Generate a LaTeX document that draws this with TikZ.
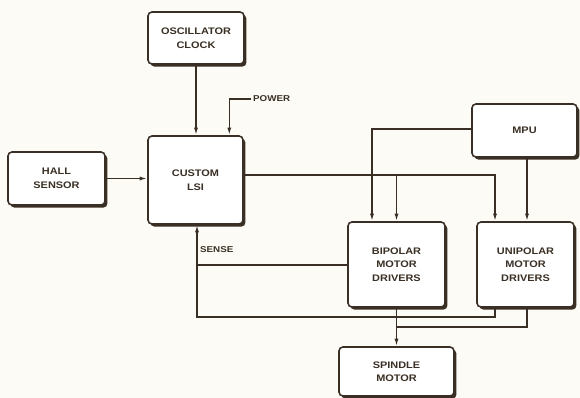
\documentclass[tikz,border=0pt]{standalone}
\usepackage{fontspec}
\newfontfamily\lab{Liberation Sans}[FakeStretch=1.15]
\usetikzlibrary{arrows.meta,shadows,calc}
\definecolor{ink}{HTML}{3A2F24}
\definecolor{paper}{HTML}{FDFBF6}
\begin{document}
\begin{tikzpicture}[x=1pt,y=-1pt,
  blk/.style={draw=ink, line width=1.6pt, rounded corners=4pt, fill=white, align=center,
    font=\lab\bfseries\fontsize{9.5}{13.5}\selectfont, text=ink, inner sep=0pt,
    drop shadow={shadow xshift=2.4pt,shadow yshift=-2.6pt,opacity=1,fill=ink}},
  wire/.style={draw=ink, line width=1.4pt},
  arr/.style={wire, -{Latex[length=7.5pt,width=4pt]}},
  lbl/.style={font=\lab\bfseries\fontsize{8.5}{10}\selectfont, text=ink, inner sep=0pt, anchor=west}]
\fill[paper] (0,0) rectangle (580,398);
\useasboundingbox (0,0) rectangle (580,398);

\node[blk, minimum width=96pt, minimum height=52pt] (osc) at (196,38) {OSCILLATOR\\CLOCK};
\node[blk, minimum width=95pt, minimum height=88pt] (lsi) at (195.5,180) {CUSTOM\\LSI};
\node[blk, minimum width=97pt, minimum height=53pt] (hall) at (56.5,178.5) {HALL\\SENSOR};
\node[blk, minimum width=105pt, minimum height=53pt] (mpu) at (524.5,130.5) {MPU};
\node[blk, minimum width=97pt, minimum height=85pt] (bip) at (396.5,264.5) {BIPOLAR\\MOTOR\\DRIVERS};
\node[blk, minimum width=97pt, minimum height=85pt] (uni) at (525.5,264.5) {UNIPOLAR\\MOTOR\\DRIVERS};
\node[blk, minimum width=115pt, minimum height=49pt] (spin) at (396.5,371.5) {SPINDLE\\MOTOR};

\node[lbl] (pwl) at (253,99) {POWER};
\node[lbl] (sen) at (200,250) {SENSE};

\draw[arr] (osc.south) -- (osc.south |- lsi.north);
\draw[arr] ([xshift=-2pt]pwl.west) -| ($(lsi.north east)+(-14.5,0)$);
\draw[arr] (hall.east) -- (hall.east -| lsi.west);

\coordinate (o1) at ($(lsi.east)+(0,-5)$);
\draw[arr] (o1) -| ($(uni.north)+(-30.5,0)$);
\draw[arr] (o1 -| bip.north) -- (bip.north);

\draw[arr] ($(mpu.west)+(0,-1.5)$) -| ($(bip.north)+(-24.5,0)$);
\coordinate (m1) at ($(uni.north)+(1.5,0)$);
\draw[arr] (m1 |- mpu.south) -- (m1);

\coordinate (s0) at ($(lsi.south)+(1.5,0)$);
\draw[arr] ($(uni.south)+(-30.5,0)$) |- (s0 |- 0,317) -- (s0);
\draw[wire] ($(bip.west)+(0,0.5)$) -- (s0 |- 0,265);
\draw[wire] ($(uni.south)+(1.5,0)$) |- (bip.south |- 0,327);
\draw[arr] (bip.south) -- (spin.north);
\end{tikzpicture}
\end{document}
